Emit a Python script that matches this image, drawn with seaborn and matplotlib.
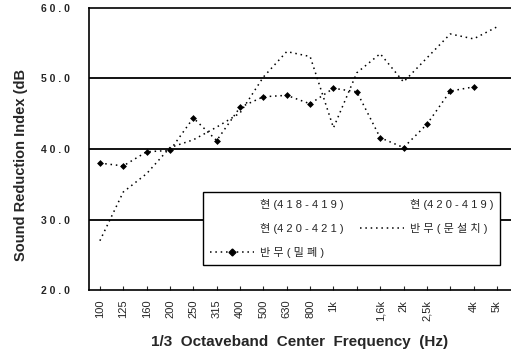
import matplotlib
matplotlib.use('Agg')
import matplotlib.pyplot as plt
from matplotlib.lines import Line2D
import seaborn as sns
import pandas as pd

bands = ['100', '125', '160', '200', '250', '315', '400', '500', '630', '800',
         '1k', '1.25k', '1.6k', '2k', '2.5k', '3.15k', '4k', '5k']
tick_labels = ['100', '125', '160', '200', '250', '315', '400', '500', '630', '800',
               '1k', '', '1,6k', '2k', '2,5k', '', '4k', '5k']
closed = [38.0, 37.6, 39.6, 39.8, 44.4, 41.2, 45.9, 47.4, 47.6, 46.4,
          48.6, 48.1, 41.6, 40.2, 43.5, 48.2, 48.8, None]
door = [27.0, 33.9, 36.5, 40.2, 41.3, 43.1, 45.1, 50.2, 53.8, 53.1,
        43.0, 50.8, 53.5, 49.5, 52.9, 56.3, 55.6, 57.3]

sns.set_style('white')
plt.rcParams['font.family'] = ['Liberation Sans', 'Noto Sans CJK KR']

df = pd.DataFrame({'idx': range(len(bands)), 'closed': closed, 'door': door})

fig = plt.figure(figsize=(5.11, 3.56), dpi=100)
ax = fig.add_axes([0.174, 0.185, 0.826, 0.793])

sns.lineplot(data=df, x='idx', y='door', ax=ax, color='black', lw=1.1,
             linestyle=(0, (1, 2.5)))
sns.lineplot(data=df.dropna(), x='idx', y='closed', ax=ax, color='black', lw=1.1,
             linestyle=(0, (1, 2.5)), marker='D', markersize=3.5, markeredgewidth=0)

ax.set_xlim(-0.47, 17.6)
ax.set_ylim(20, 60)
ax.set_yticks([20, 30, 40, 50, 60])
ax.set_yticklabels(['2 0 . 0', '3 0 . 0', '4 0 . 0', '5 0 . 0', '6 0 . 0'],
                   fontsize=7.5, fontweight='bold')
ax.set_xticks(range(len(bands)))
ax.set_xticklabels(tick_labels, rotation=90, fontsize=8)
ax.tick_params(axis='y', length=0, pad=14)
ax.tick_params(axis='x', direction='in', length=3, width=0.8, pad=7, bottom=True)

for y in [30, 40, 50]:
    ax.axhline(y, color='black', lw=1.3, zorder=1)

for s in ['left', 'top', 'bottom']:
    ax.spines[s].set_color('black')
    ax.spines[s].set_linewidth(1.2)
ax.spines['right'].set_visible(False)

ax.set_xlabel('1/3  Octaveband  Center  Frequency  (Hz)',
              fontsize=11, fontweight='bold', labelpad=10)
ax.set_ylabel('')
fig.text(0.042, 0.536, 'Sound Reduction Index (dB', rotation=90, ha='center',
         va='center', fontsize=10.5, fontweight='bold')

blank = Line2D([], [], color='none')
h_door = Line2D([], [], color='black', lw=1.1, linestyle=(0, (1, 2.5)))
h_closed = Line2D([], [], color='black', lw=1.1, linestyle=(0, (1, 2.5)),
                  marker='D', markersize=3.5)
handles = [blank, blank, h_closed, blank, h_door]
labels = ['현 (4 1 8 - 4 1 9 )', '현 (4 2 0 - 4 2 1 )', '반 무 ( 밀 폐 )',
          '현 (4 2 0 - 4 1 9 )', '반 무 ( 문 설 치 )']
leg = ax.legend(handles, labels, ncol=2, loc='upper left',
                bbox_to_anchor=(0.27, 0.348), fontsize=8, frameon=True,
                fancybox=False, edgecolor='black', framealpha=1,
                handlelength=4, handletextpad=0.5, columnspacing=1.5,
                borderaxespad=0, labelspacing=1.2, borderpad=0.6)
leg.get_frame().set_linewidth(1.0)

fig.savefig('out.png', dpi=100)
